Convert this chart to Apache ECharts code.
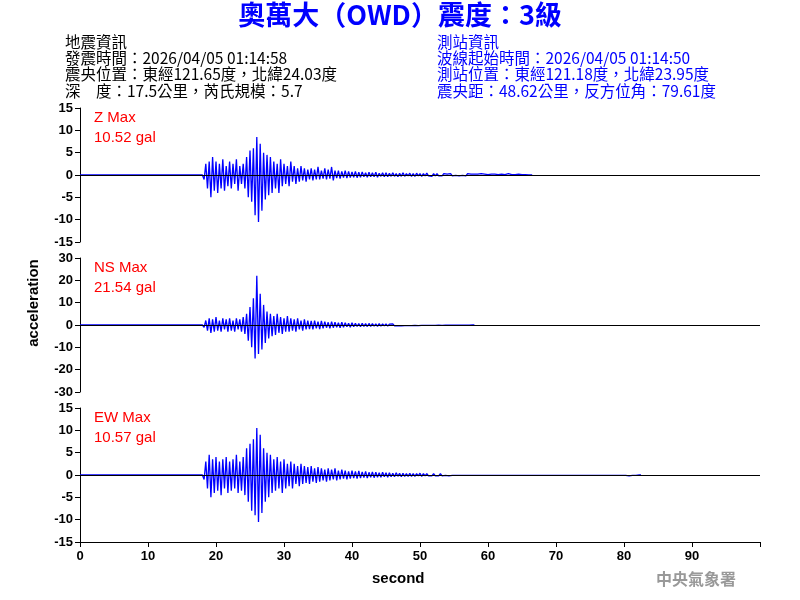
<!DOCTYPE html><html><head><meta charset="utf-8">
<script src="https://cdn.jsdelivr.net/npm/echarts@6/dist/echarts.min.js"></script>
<style>html,body{margin:0;background:#fff}#c{width:800px;height:600px}</style></head><body><div id="c"></div>
<script>
// envelope samples every 0.5 s starting at 18.0 s (upper / lower peak per bin)
const startT = 18.0, step = 0.5;
const zUpper = [0,2.5,3,4,3,2.5,3.5,2,3,2.5,3.5,2,2.5,4,5.5,6,8.5,7,5,4.5,4,3,2.5,3.5,2.5,2,3,2,1.5,2,1.5,1.2,1.5,1.2,1.8,1,1.5,1.2,1.8,1,1,0.8,1,0.8,0.7,0.8,0.6,0.7,0.5,0.6,0.5,0.6,0.4,0.5,0.5,0.4,0.5,0.3,0.4,0.5,0.3,0.4,0.3,0.4,0.3,0.3,0.4,0.2,0.3,0.3,0.2,0.3,0.2,0.3,0.2,0.3,0.2,0.2,0.3,0.2,0.2,0.2,0.3,0.2,0.1,0.2,0.2,0.1,0.2,0.1,0.3,0.1,0.1,0.2,0.1,0.1,0];
const zLower = [-1,-3,-5,-3.5,-4,-3,-3.5,-2.5,-3,-2,-3.5,-2,-3,-5,-6,-9,-10.5,-8,-5.5,-4.5,-4,-3,-4,-2.5,-2,-2.5,-1.5,-2,-1.5,-1.2,-1.5,-1,-1.2,-1,-1,-0.8,-1,-0.8,-1.2,-0.7,-0.8,-0.6,-0.7,-0.6,-0.5,-0.6,-0.5,-0.4,-0.5,-0.4,-0.4,-0.5,-0.3,-0.4,-0.4,-0.3,-0.3,-0.4,-0.3,-0.3,-0.2,-0.3,-0.3,-0.2,-0.3,-0.2,-0.2,-0.3,-0.2,-0.2,-0.2,-0.1,-0.2,-0.2,-0.1,-0.2,-0.1,-0.2,-0.1,-0.1,-0.2,-0.1,-0.1,-0.2,-0.1,-0.1,-0.1,-0.1,-0.1,-0.1,-0.1,-0.1,-0.1,-0.1,-0.1,-0.1,0];
const nsUpper = [0,2,3,2.5,3.5,2,3,2.5,3,2,3,2.5,3.5,5,8,12,22,14,9,6,5,4,5,3.5,3,4,3,2.5,3,2,2.5,2,1.8,2,1.5,1.8,1.5,1.2,1.5,1.2,1,1.2,1,0.8,1,0.8,0.7,0.8,0.6,0.7,0.6,0.5,0.6,0.5,0.5,0.4,0.5,0.4,0.4,0.3,0.4,0.3,0.3,0.3,0.3,0.2,0.3,0.2,0.2,0.2,0.2,0.2,0.2,0.1,0.2,0.1,0.1,0.1,0.1,0];
const nsLower = [-1,-2.5,-3.5,-3,-2.5,-3,-2,-3,-2.5,-3,-2,-3,-4,-7,-10,-15,-13,-11,-8,-6,-5,-4.5,-3.5,-4,-3,-3,-2.5,-3,-2,-2.5,-2,-1.8,-2,-1.5,-1.8,-1.5,-1.2,-1.5,-1.2,-1,-1.2,-1,-0.8,-1,-0.8,-0.7,-0.8,-0.6,-0.7,-0.6,-0.5,-0.6,-0.5,-0.4,-0.5,-0.4,-0.4,-0.3,-0.4,-0.3,-0.3,-0.3,-0.2,-0.3,-0.2,-0.2,-0.2,-0.2,-0.2,-0.1,-0.2,-0.1,-0.1,-0.1,-0.1,-0.1,-0.1,-0.1,-0.1,0];
const ewUpper = [0,3,4.5,3.5,4,3,3.5,4,3,3.5,4.5,3,4,6,7,8,10.5,9,6,5,4.5,3.5,4,3,3.5,2.5,3,2.5,2,2.5,2,1.8,2,1.5,1.8,1.5,1.2,1.5,1.2,1.5,1,1.2,1,0.8,1,0.8,0.9,0.7,0.8,0.6,0.7,0.6,0.5,0.6,0.5,0.5,0.4,0.5,0.4,0.4,0.3,0.4,0.3,0.3,0.4,0.3,0.3,0.2,0.3,0.2,0.3,0.2,0.2,0.2,0.2,0.2,0.2,0.1,0.2,0.1,0.2,0.1,0.1,0.2,0.1,0.1,0.1,0.1,0.1,0.1,0.1,0.1,0.1,0.1,0.1,0.1,0.1,0.1,0.1,0.1,0.1,0.1,0.1,0.1,0.1,0.1,0.1,0.1,0.1,0.1,0.1,0.1,0.1,0.1,0.1,0.1,0.1,0.1,0.1,0.1,0.1,0.1,0.1,0.1,0.1,0.3,0.1,0.1,0];
const ewLower = [-1,-3,-5,-4,-3.5,-4.5,-3,-4,-3.5,-3,-4,-3.5,-4.5,-6,-8,-9,-10.5,-8.5,-6,-5,-4,-3.5,-3,-4,-3,-2.5,-3,-2,-2.5,-2,-1.8,-2,-1.5,-1.8,-1.5,-1.2,-1.5,-1.2,-1,-1.2,-1,-0.8,-1,-0.8,-0.7,-0.8,-0.7,-0.6,-0.7,-0.5,-0.6,-0.5,-0.5,-0.4,-0.5,-0.4,-0.4,-0.3,-0.4,-0.3,-0.3,-0.3,-0.3,-0.2,-0.3,-0.2,-0.2,-0.2,-0.2,-0.2,-0.2,-0.1,-0.2,-0.1,-0.1,-0.1,-0.1,-0.1,-0.1,-0.1,-0.1,-0.1,-0.1,-0.1,-0.1,-0.1,-0.1,-0.1,-0.1,-0.1,-0.1,-0.1,-0.1,-0.1,-0.1,-0.1,-0.1,-0.1,-0.1,-0.1,-0.1,-0.1,-0.1,-0.1,-0.1,-0.1,-0.1,-0.1,-0.1,-0.1,-0.1,-0.1,-0.1,-0.1,-0.1,-0.1,-0.1,-0.1,-0.1,-0.1,-0.1,-0.1,-0.1,-0.1,-0.1,-0.2,-0.1,-0.1,0];
const panelNames = ['Z Max','NS Max','EW Max'];
const panelMax = ['10.52 gal','21.54 gal','10.57 gal'];
const yLimits = [15,30,15];
const yIntervals = [5,10,5];
const xTicks = [0,10,20,30,40,50,60,70,80,90];

function zigzag(up, lo){
  const d=[[0,0],[startT,0]];
  for(let i=0;i<up.length;i++){
    const t=startT+i*step;
    d.push([t,up[i]]); d.push([t+step/2,lo[i]]);
  }
  d.push([startT+up.length*step,0]);
  return d;
}
const waves=[zigzag(zUpper,zLower),zigzag(nsUpper,nsLower),zigzag(ewUpper,ewLower)];
const tops=[108,258,408], H=134;
const F='Arial, "Liberation Sans", sans-serif';
const CJK='"Noto Sans CJK TC", sans-serif';
const grids=[],xAxes=[],yAxes=[],series=[],graphic=[];
for(let i=0;i<3;i++){
  grids.push({left:80,right:40,top:tops[i],height:H});
  xAxes.push({gridIndex:i,type:'value',min:0,max:100,interval:10,
    axisLine:{show:i===2,onZero:false,lineStyle:{color:'#000'}},
    axisTick:{show:i===2,length:5,lineStyle:{color:'#000'}},
    axisLabel:{show:i===2,color:'#000',fontFamily:F,fontSize:13,fontWeight:'bold',
      formatter:v=>xTicks.includes(v)?String(v):''},
    splitLine:{show:false}});
  yAxes.push({gridIndex:i,type:'value',min:-yLimits[i],max:yLimits[i],interval:yIntervals[i],
    axisLine:{show:true,lineStyle:{color:'#000'}},axisTick:{show:true,length:5,lineStyle:{color:'#000'}},
    axisLabel:{color:'#000',fontFamily:F,fontSize:13,fontWeight:'bold',margin:7},splitLine:{show:false}});
  series.push({type:'line',xAxisIndex:i,yAxisIndex:i,data:waves[i],symbol:'none',
    lineStyle:{color:'#0000ff',width:1.3},animation:false,
    markLine:{silent:true,symbol:'none',label:{show:false},lineStyle:{color:'#000',width:1,type:'solid'},data:[{yAxis:0}]}});
  graphic.push({type:'text',left:94,top:tops[i]+2,style:{text:panelNames[i],fill:'#ff0000',font:'15px '+F}});
  graphic.push({type:'text',left:94,top:tops[i]+22,style:{text:panelMax[i],fill:'#ff0000',font:'15px '+F}});
}
const hdrL=['地震資訊','發震時間：2026/04/05 01:14:58','震央位置：東經121.65度，北緯24.03度','深　度：17.5公里，芮氏規模：5.7'];
const hdrR=['測站資訊','波線起始時間：2026/04/05 01:14:50','測站位置：東經121.18度，北緯23.95度','震央距：48.62公里，反方位角：79.61度'];
hdrL.forEach((t,k)=>graphic.push({type:'text',left:65,top:34+k*16.3,style:{text:t,fill:'#000',font:'15.5px '+CJK,lineHeight:16}}));
hdrR.forEach((t,k)=>graphic.push({type:'text',left:437,top:34+k*16.3,style:{text:t,fill:'#0000ff',font:'15.5px '+CJK,lineHeight:16}}));
graphic.push({type:'text',left:'center',top:1,style:{text:'奧萬大（OWD）震度：3級',fill:'#0000ff',font:'bold 27px '+CJK}});
graphic.push({type:'text',left:372,top:571,style:{text:'second',fill:'#000',font:'bold 15px '+F}});
graphic.push({type:'text',left:656,top:571,style:{text:'中央氣象署',fill:'#999',font:'bold 16px '+CJK}});
graphic.push({type:'text',x:34,y:303,rotation:Math.PI/2,style:{text:'acceleration',fill:'#000',font:'bold 15px '+F,align:'center',verticalAlign:'middle'}});
const chart=echarts.init(document.getElementById('c'));
chart.setOption({animation:false,grid:grids,xAxis:xAxes,yAxis:yAxes,series,graphic});
</script></body></html>
